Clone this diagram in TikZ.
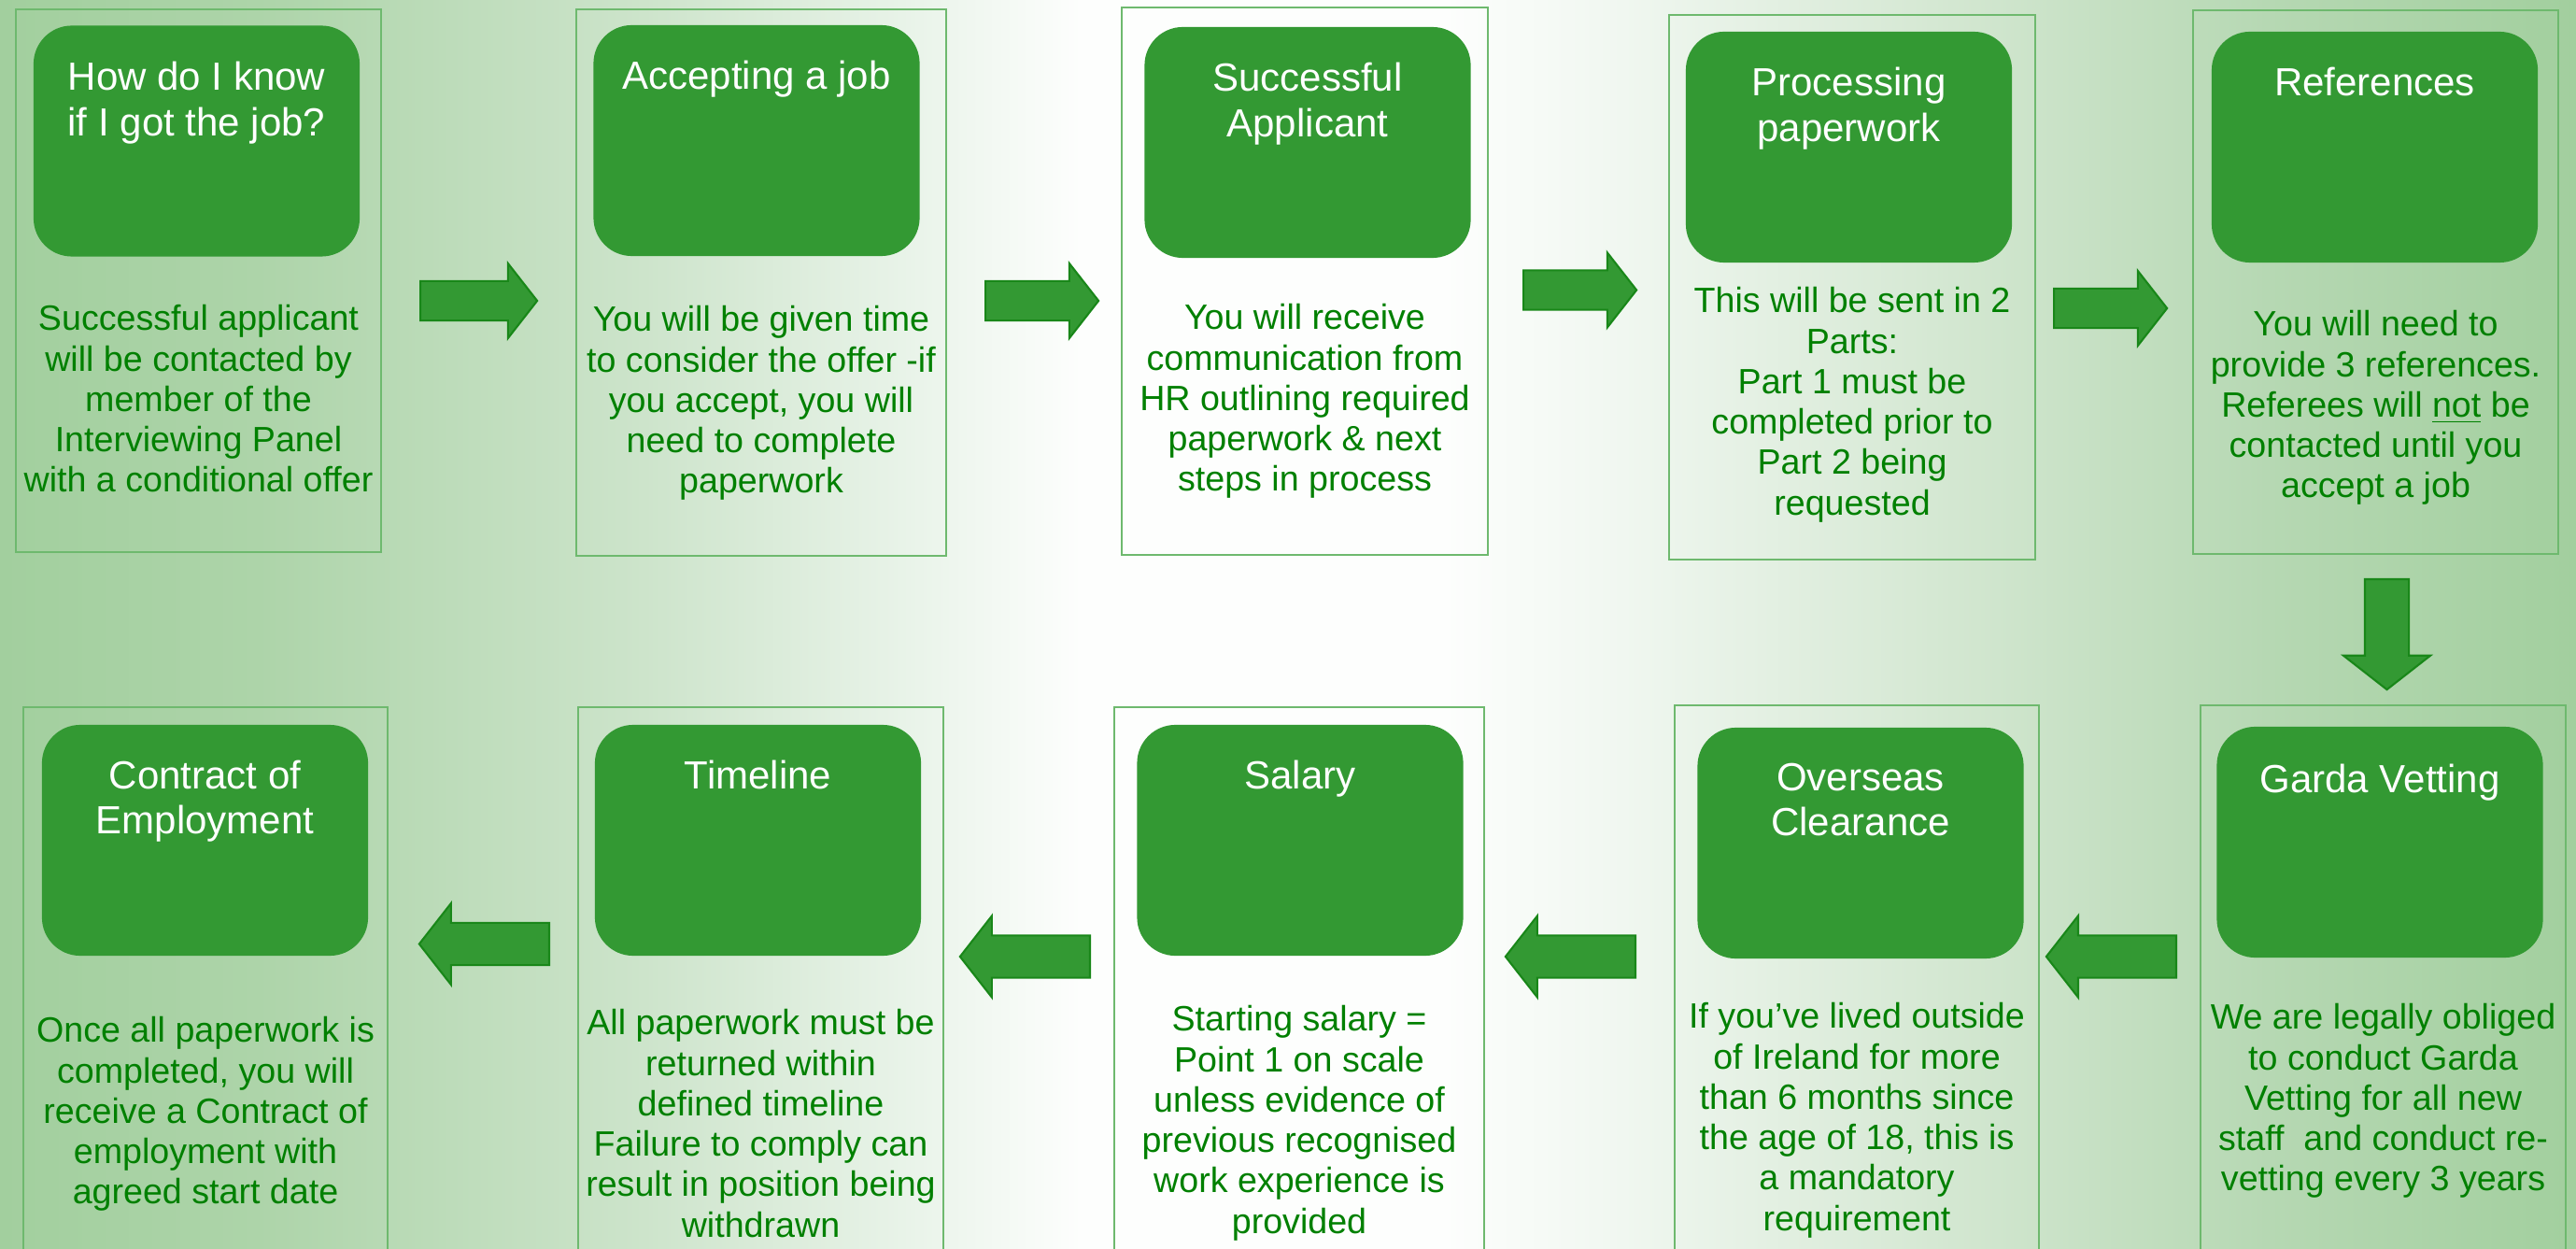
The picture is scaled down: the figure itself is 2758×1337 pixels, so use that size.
\documentclass[tikz,border=0pt]{standalone}
\usepackage{fontspec}
\setmainfont{Liberation Sans}
\usetikzlibrary{shapes.arrows}
\definecolor{boxgreen}{RGB}{51,153,51}
\definecolor{txtgreen}{RGB}{0,128,0}
\definecolor{edgegreen}{RGB}{110,185,110}
\definecolor{arrowedge}{RGB}{25,135,25}
\definecolor{bga}{RGB}{162,207,158}
\definecolor{bgb}{RGB}{173,212,169}
\definecolor{bgc}{RGB}{205,228,203}
\definecolor{bgd}{RGB}{232,243,232}
\definecolor{bge}{RGB}{253,254,253}
\definecolor{bgf}{RGB}{240,247,240}
\definecolor{bgg}{RGB}{213,232,211}
\definecolor{bgh}{RGB}{182,216,179}
\pgfdeclarehorizontalshading{bgshade}{100bp}{color(0bp)=(bga); color(25bp)=(bga); color(30bp)=(bgb); color(37.5bp)=(bgc); color(42.5bp)=(bgd); color(46bp)=(bge); color(53bp)=(bge); color(56.5bp)=(bgf); color(62.5bp)=(bgg); color(69bp)=(bgh); color(75bp)=(bga); color(100bp)=(bga)}
\begin{document}
\begin{tikzpicture}[x=0.01cm,y=-0.01cm,
  outerbox/.style={draw=edgegreen, line width=0.6pt, rectangle, inner sep=0pt},
  headbox/.style={fill=boxgreen, rectangle, rounded corners=0.41cm, inner sep=0pt, minimum width=3.49cm, minimum height=2.47cm},
  titletext/.style={anchor=north, text=white, align=center, inner sep=0pt, font=\fontsize{11.95pt}{13.9pt}\selectfont},
  bodytext/.style={anchor=north, text=txtgreen, align=center, inner sep=0pt, font=\fontsize{10.7pt}{12.3pt}\selectfont},
  blockarrow/.style={single arrow, fill=boxgreen, draw=arrowedge, line width=0.6pt, single arrow head indent=0pt, single arrow tip angle=104, anchor=tail},
  toparrow/.style={blockarrow, minimum height=1.21cm, inner sep=0.2cm, single arrow head extend=0.19cm},
  botarrow/.style={blockarrow, shape border rotate=180, minimum height=1.39cm, inner sep=0.215cm, single arrow head extend=0.21cm},
]
\useasboundingbox (0,0) rectangle (2758,1337);
\begin{scope}
\clip (0,0) rectangle (2758,1337);
\shade[shading=bgshade] (0,0) rectangle (2758,1337);

% top row outer boxes
\node[outerbox, minimum width=3.91cm, minimum height=5.81cm] (o1) at (212.5,300.5) {};
\node[outerbox, minimum width=3.96cm, minimum height=5.85cm] (o2) at (815,302.5) {};
\node[outerbox, minimum width=3.92cm, minimum height=5.86cm] (o3) at (1397,301) {};
\node[outerbox, minimum width=3.92cm, minimum height=5.83cm] (o4) at (1983,307.5) {};
\node[outerbox, minimum width=3.91cm, minimum height=5.82cm] (o5) at (2543.5,302) {};
% bottom row outer boxes (run past the lower edge)
\node[outerbox, minimum width=3.90cm, minimum height=5.90cm] (o10) at (220,1052) {};
\node[outerbox, minimum width=3.91cm, minimum height=5.90cm] (o9) at (814.5,1052) {};
\node[outerbox, minimum width=3.96cm, minimum height=5.90cm] (o8) at (1391,1052) {};
\node[outerbox, minimum width=3.90cm, minimum height=5.92cm] (o7) at (1988,1051) {};
\node[outerbox, minimum width=3.91cm, minimum height=5.92cm] (o6) at (2551.5,1051) {};

% green heading boxes
\node[headbox] (h1) at (210.5,151) {};
\node[headbox] (h2) at (810,150.5) {};
\node[headbox] (h3) at (1400,152.5) {};
\node[headbox] (h4) at (1979.5,157.5) {};
\node[headbox] (h5) at (2542.5,157.5) {};
\node[headbox] (h10) at (219.5,899.5) {};
\node[headbox] (h9) at (811.5,899.5) {};
\node[headbox] (h8) at (1392,899.5) {};
\node[headbox] (h7) at (1992,902.5) {};
\node[headbox] (h6) at (2548,901.5) {};

% titles
\node[titletext] (t1) at (210.5,65) {How do I know\\if I got the job?};
\node[titletext] (t2) at (810,64) {Accepting a job};
\node[titletext] (t3) at (1400,66) {Successful\\Applicant};
\node[titletext] (t4) at (1979.5,71) {Processing\\paperwork};
\node[titletext] (t5) at (2542.5,71) {References};
\node[titletext] (t10) at (219.5,813) {Contract of\\Employment};
\node[titletext] (t9) at (811.5,813) {Timeline};
\node[titletext] (t8) at (1392,813) {Salary};
\node[titletext] (t7) at (1992,816) {Overseas\\Clearance};
\node[titletext] (t6) at (2548,817) {Garda Vetting};

% body texts
\node[bodytext] (b1) at (212.5,326) {Successful applicant\\will be contacted by\\member of the\\Interviewing Panel\\with a conditional offer};
\node[bodytext] (b2) at (815,327) {You will be given time\\to consider the offer -if\\you accept, you will\\need to complete\\paperwork};
\node[bodytext] (b3) at (1397,325) {You will receive\\communication from\\HR outlining required\\paperwork \& next\\steps in process};
\node[bodytext] (b4) at (1983,307) {This will be sent in 2\\Parts:\\Part 1 must be\\completed prior to\\Part 2 being\\requested};
\node[bodytext] (b5) at (2543.5,332) {You will need to\\provide 3 references.\\Referees will \underline{not} be\\contacted until you\\accept a job};
\node[bodytext] (b10) at (220,1088) {Once all paperwork is\\completed, you will\\receive a Contract of\\employment with\\agreed start date};
\node[bodytext] (b9) at (814.5,1080) {All paperwork must be\\returned within\\defined timeline\\Failure to comply can\\result in position being\\withdrawn};
\node[bodytext] (b8) at (1391,1076) {Starting salary =\\Point 1 on scale\\unless evidence of\\previous recognised\\work experience is\\provided};
\node[bodytext] (b7) at (1988,1073) {If you’ve lived outside\\of Ireland for more\\than 6 months since\\the age of 18, this is\\a mandatory\\requirement};
\node[bodytext] (b6) at (2551.5,1074) {We are legally obliged\\to conduct Garda\\Vetting for all new\\staff\ \ and conduct re-\\vetting every 3 years};

% block arrows
\node[toparrow, minimum height=1.25cm] (a1) at (449,322) {};
\node[toparrow] (a2) at (1054,322) {};
\node[toparrow] (a3) at (1630,310.5) {};
\node[toparrow] (a4) at (2198,330) {};
\node[blockarrow, shape border rotate=270, minimum height=1.18cm, inner sep=0.225cm, single arrow head extend=0.23cm] (a5) at (2555.5,619) {};
\node[botarrow] (a6) at (2331,1024) {};
\node[botarrow] (a7) at (1752,1024) {};
\node[botarrow] (a8) at (1168,1024) {};
\node[botarrow] (a9) at (589,1010.5) {};
\end{scope}
\end{tikzpicture}
\end{document}
